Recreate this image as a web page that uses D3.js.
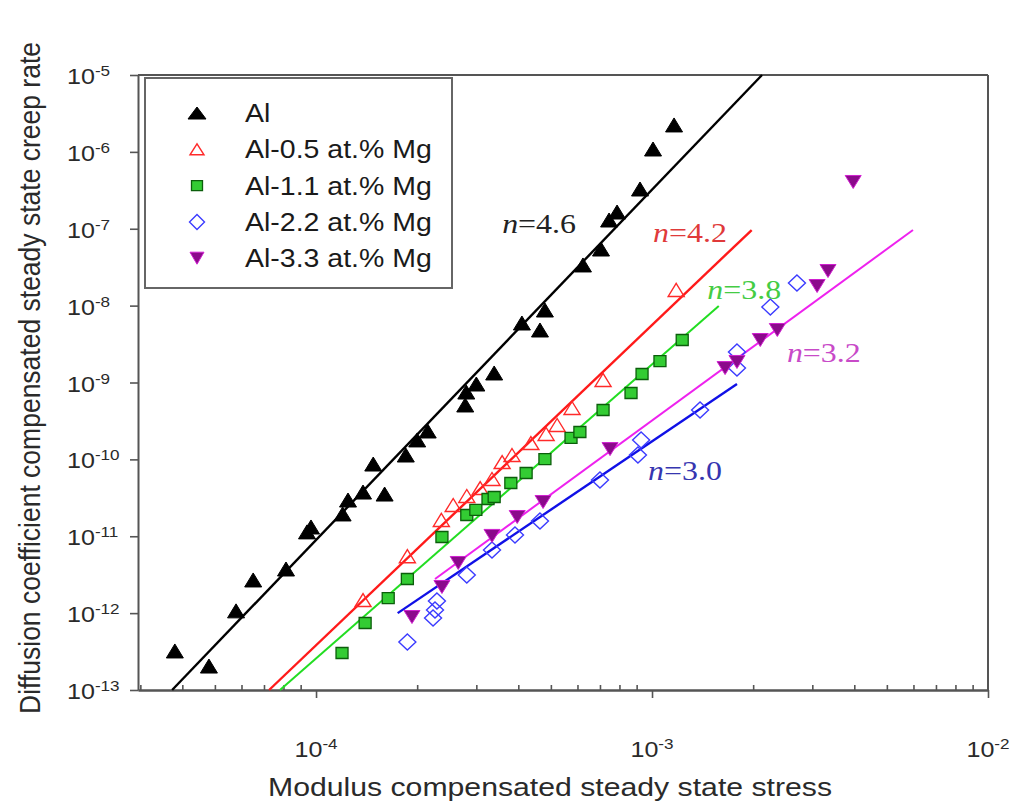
<!DOCTYPE html>
<html><head><meta charset="utf-8">
<script src="https://cdn.jsdelivr.net/npm/d3@7/dist/d3.min.js"></script>
<style>body{margin:0;background:#fff;} svg{display:block;}</style>
</head><body><svg id="chart" width="1022" height="802"></svg>
<script>
// ---------------- data ----------------
const seriesNames = ["Al", "Al-0.5 at.% Mg", "Al-1.1 at.% Mg", "Al-2.2 at.% Mg", "Al-3.3 at.% Mg"];

const alStress = [3.80e-5, 4.80e-5, 5.78e-5, 6.50e-5, 8.14e-5, 9.40e-5, 9.66e-5, 1.20e-4, 1.245e-4, 1.38e-4, 1.60e-4, 1.48e-4, 1.85e-4, 2.00e-4, 2.15e-4, 2.80e-4, 3.00e-4, 2.78e-4, 3.39e-4, 4.10e-4, 4.64e-4, 4.80e-4, 6.23e-4, 7.05e-4, 7.45e-4, 7.87e-4, 9.21e-4, 1.007e-3, 1.163e-3];
const alRate   = [3.22e-13, 2.05e-13, 1.07e-12, 2.70e-12, 3.75e-12, 1.14e-11, 1.32e-11, 1.95e-11, 2.96e-11, 3.76e-11, 3.54e-11, 8.70e-11, 1.14e-10, 1.79e-10, 2.34e-10, 7.52e-10, 9.56e-10, 5.10e-10, 1.33e-9, 5.94e-9, 4.82e-9, 8.77e-9, 3.38e-8, 5.45e-8, 1.30e-7, 1.65e-7, 3.29e-7, 1.09e-6, 2.24e-6];

const mg05Stress = [1.38e-4, 1.87e-4, 2.36e-4, 2.56e-4, 2.81e-4, 3.08e-4, 3.34e-4, 3.58e-4, 3.83e-4, 4.36e-4, 4.84e-4, 5.22e-4, 5.78e-4, 7.15e-4, 1.18e-3];
const mg05Rate   = [1.48e-12, 5.5e-12, 1.63e-11, 2.55e-11, 3.34e-11, 4.24e-11, 5.56e-11, 9.24e-11, 1.14e-10, 1.63e-10, 2.14e-10, 2.80e-10, 4.66e-10, 1.08e-9, 1.60e-8];

const mg11Stress = [1.195e-4, 1.40e-4, 1.64e-4, 1.87e-4, 2.37e-4, 2.81e-4, 2.99e-4, 3.25e-4, 3.39e-4, 3.80e-4, 4.22e-4, 4.80e-4, 5.74e-4, 6.10e-4, 7.15e-4, 8.66e-4, 9.34e-4, 1.056e-3, 1.23e-3];
const mg11Rate   = [3.03e-13, 7.44e-13, 1.57e-12, 2.78e-12, 9.78e-12, 1.89e-11, 2.20e-11, 3.05e-11, 3.24e-11, 4.93e-11, 6.65e-11, 1.01e-10, 1.90e-10, 2.27e-10, 4.39e-10, 7.30e-10, 1.29e-9, 1.90e-9, 3.57e-9];

const mg22Stress = [1.87e-4, 2.23e-4, 2.26e-4, 2.29e-4, 2.81e-4, 3.34e-4, 3.91e-4, 4.64e-4, 7.00e-4, 9.08e-4, 9.28e-4, 1.39e-3, 1.79e-3, 1.79e-3, 2.25e-3, 2.70e-3];
const mg22Rate   = [4.21e-13, 8.64e-13, 1.10e-12, 1.44e-12, 3.13e-12, 6.62e-12, 1.04e-11, 1.58e-11, 5.39e-11, 1.14e-10, 1.79e-10, 4.39e-10, 1.54e-9, 2.49e-9, 9.60e-9, 1.97e-8];

const mg33Stress = [1.93e-4, 2.37e-4, 2.65e-4, 3.34e-4, 3.97e-4, 4.74e-4, 7.50e-4, 1.65e-3, 1.79e-3, 2.10e-3, 2.36e-3, 3.10e-3, 3.34e-3, 3.97e-3];
const mg33Rate   = [8.9e-13, 2.19e-12, 4.49e-12, 1.01e-11, 1.78e-11, 2.79e-11, 1.36e-10, 1.54e-9, 1.85e-9, 3.57e-9, 4.82e-9, 1.80e-8, 2.82e-8, 4.06e-7];

// power-law fit lines: [stress, rate] at both ends
const fitStart = [[3.73e-5, 1e-13], [7.25e-5, 1e-13], [7.81e-5, 1e-13], [1.75e-4, 1.0e-12], [2.26e-4, 2.78e-12]];
const fitEnd   = [[2.125e-3, 1e-5], [1.98e-3, 9.63e-8], [1.58e-3, 9.89e-9], [1.79e-3, 9.56e-10], [5.98e-3, 9.63e-8]];
const fitExponents = ["4.6", "4.2", "3.8", "3.0", "3.2"];
const fitLabelAt = [[3.58e-4, 8.81e-8], [1.007e-3, 6.72e-8], [1.46e-3, 1.22e-8], [9.73e-4, 5.39e-11], [2.52e-3, 1.85e-9]];

const xTickValues = [1e-4, 1e-3, 1e-2];
const xTickExps = ["-4", "-3", "-2"];
const yTickValues = [1e-5, 1e-6, 1e-7, 1e-8, 1e-9, 1e-10, 1e-11, 1e-12, 1e-13];
const yTickExps = ["-5", "-6", "-7", "-8", "-9", "-10", "-11", "-12", "-13"];
const xTitle = "Modulus compensated steady state stress";
const yTitle = "Diffusion coefficient compensated steady state creep rate";

// ---------------- layout / style ----------------
const SX = 1.14; // horizontal text stretch of the original
const svg = d3.select("#chart");
const x = d3.scaleLog().domain([2.952e-5, 1e-2]).range([138, 988]);
const y = d3.scaleLog().domain([1e-13, 1e-5]).range([690, 75]);
const axisColor = "#555";
const sansFont = "'Liberation Sans', Arial, sans-serif";
const serifFont = "'Liberation Serif', 'Times New Roman', serif";

const series = [
  {stress: alStress, rate: alRate},
  {stress: mg05Stress, rate: mg05Rate},
  {stress: mg11Stress, rate: mg11Rate},
  {stress: mg22Stress, rate: mg22Rate},
  {stress: mg33Stress, rate: mg33Rate}
];
const styles = [
  {shape: "triUp",   w: 17, h: 14, fill: "#000",    stroke: "#000",    sw: 1,   lw: [18, 12]},
  {shape: "triUp",   w: 16, h: 13, fill: "none",    stroke: "#ff2a2a", sw: 1.4, lw: [14, 11]},
  {shape: "square",  w: 12, h: 11, fill: "#33cc33", stroke: "#0b5e0b", sw: 1.3, lw: [11, 10]},
  {shape: "diamond", w: 17, h: 16, fill: "none",    stroke: "#3b3bff", sw: 1.4, lw: [15, 15]},
  {shape: "triDown", w: 16, h: 13, fill: "#8b0a8b", stroke: "#d020d0", sw: 1,   lw: [14, 12]}
];
// fit line styles in the order of fitStart
const fitColors = ["#000", "#ff1a1a", "#22dd22", "#1010e6", "#ee22ee"];
const fitWidths = [2.4, 2.4, 2, 2.4, 2];
const labelColors = ["#222", "#e03a3a", "#44cc44", "#3636b0", "#c84ac8"];

function shapePath(type, w, h) {
  const a = w / 2, b = h / 2;
  switch (type) {
    case "triUp": return `M${-a},${b}L${a},${b}L0,${-b}Z`;
    case "triDown": return `M${-a},${-b}L${a},${-b}L0,${b}Z`;
    case "square": return `M${-a},${-b}L${a},${-b}L${a},${b}L${-a},${b}Z`;
    case "diamond": return `M0,${-b}L${a},0L0,${b}L${-a},0Z`;
  }
}

// ---------------- axes ----------------
const minorX = [];
[1e-5, 1e-4, 1e-3].forEach(d => { for (let k = 2; k <= 9; k++) minorX.push(d * k); });
const minorXIn = minorX.filter(v => v >= x.domain()[0] && v <= x.domain()[1]);

const gx = svg.append("g").attr("transform", "translate(0,690)")
  .call(d3.axisBottom(x).tickValues(xTickValues).tickFormat("").tickSize(8).tickSizeOuter(0));
const gxm = svg.append("g").attr("transform", "translate(0,690)")
  .call(d3.axisBottom(x).tickValues(minorXIn).tickFormat("").tickSize(-5).tickSizeOuter(0));
const gy = svg.append("g").attr("transform", "translate(138,0)")
  .call(d3.axisLeft(y).tickValues(yTickValues).tickFormat("").tickSize(8).tickSizeOuter(0));
[gx, gxm, gy].forEach(g => {
  g.selectAll("path.domain").attr("stroke", axisColor).attr("stroke-width", 2);
  g.selectAll(".tick line").attr("stroke", axisColor).attr("stroke-width", 1.6);
});
// frame top and right
svg.append("line").attr("x1", x.range()[0]).attr("x2", x.range()[1]).attr("y1", y.range()[1]).attr("y2", y.range()[1])
  .attr("stroke", axisColor).attr("stroke-width", 2);
svg.append("line").attr("x1", x.range()[1]).attr("x2", x.range()[1]).attr("y1", y.range()[0]).attr("y2", y.range()[1])
  .attr("stroke", axisColor).attr("stroke-width", 2);

// tick labels
yTickValues.forEach((v, i) => {
  const t = svg.append("text")
    .attr("transform", `translate(67,${y(v) + 9}) scale(${SX},1)`)
    .attr("font-family", sansFont).attr("font-size", 22).attr("fill", "#2a2a2a");
  t.append("tspan").text("10");
  t.append("tspan").attr("dy", -8).attr("font-size", 15).text(yTickExps[i]);
});
xTickValues.forEach((v, i) => {
  const t = svg.append("text")
    .attr("transform", `translate(${x(v)},${757}) scale(${SX},1)`)
    .attr("text-anchor", "middle")
    .attr("font-family", sansFont).attr("font-size", 22).attr("fill", "#2a2a2a");
  t.append("tspan").text("10");
  t.append("tspan").attr("dy", -8).attr("font-size", 15).text(xTickExps[i]);
});

// axis titles
svg.append("text")
  .attr("transform", `translate(550,796) scale(${SX},1)`)
  .attr("text-anchor", "middle").attr("font-family", sansFont).attr("font-size", 26.5).attr("fill", "#2a2a2a")
  .text(xTitle);
svg.append("text")
  .attr("transform", `translate(40,378) rotate(-90) scale(1,${SX})`)
  .attr("text-anchor", "middle").attr("font-family", sansFont).attr("font-size", 26.5).attr("fill", "#2a2a2a")
  .text(yTitle);

// ---------------- fit lines ----------------
const lineGen = d3.line().x(d => x(d[0])).y(d => y(d[1]));
fitStart.forEach((s, i) => {
  svg.append("path").attr("d", lineGen([s, fitEnd[i]]))
    .attr("stroke", fitColors[i]).attr("stroke-width", fitWidths[i]).attr("fill", "none");
});

// ---------------- markers ----------------
series.forEach((s, si) => {
  const st = styles[si];
  svg.append("g").selectAll("path").data(s.stress.map((v, j) => [v, s.rate[j]]))
    .join("path")
    .attr("transform", d => `translate(${x(d[0])},${y(d[1])})`)
    .attr("d", shapePath(st.shape, st.w, st.h))
    .attr("fill", st.fill).attr("stroke", st.stroke).attr("stroke-width", st.sw)
    .attr("stroke-linejoin", "miter");
});

// ---------------- fit labels ----------------
fitLabelAt.forEach((p, i) => {
  const t = svg.append("text")
    .attr("transform", `translate(${x(p[0])},${y(p[1])}) scale(${SX},1)`)
    .attr("font-family", serifFont).attr("font-size", 28).attr("fill", labelColors[i]);
  t.append("tspan").attr("font-style", "italic").text("n");
  t.append("tspan").text("=" + fitExponents[i]);
});

// ---------------- legend ----------------
const leg = svg.append("g");
leg.append("rect").attr("x", 145).attr("y", 78).attr("width", 307).attr("height", 210)
  .attr("fill", "#fff").attr("stroke", "#666").attr("stroke-width", 2);
seriesNames.forEach((name, i) => {
  const st = styles[i];
  const cy = 113 + i * 36.3;
  leg.append("path").attr("transform", `translate(197,${cy})`)
    .attr("d", shapePath(st.shape, st.lw[0], st.lw[1]))
    .attr("fill", st.fill).attr("stroke", st.stroke).attr("stroke-width", st.sw);
  leg.append("text").attr("transform", `translate(245,${cy + 9}) scale(${SX},1)`)
    .attr("font-family", sansFont).attr("font-size", 25).attr("fill", "#1a1a1a").text(name);
});
</script>
</body></html>
